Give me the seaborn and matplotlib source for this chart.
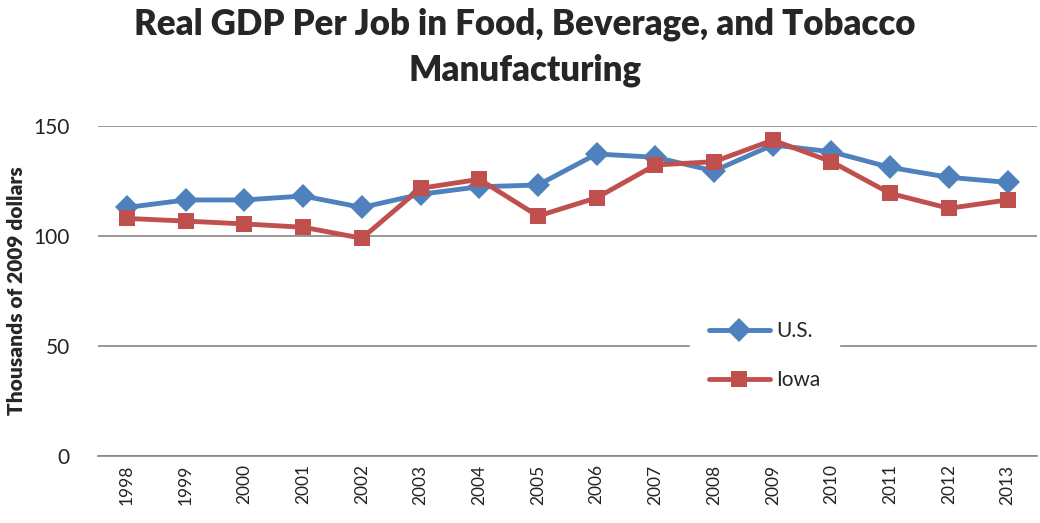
import matplotlib
matplotlib.use("Agg")
import matplotlib.pyplot as plt
import seaborn as sns
import pandas as pd

# values (thousands of 2009 dollars)
years = list(range(1998, 2014))
us_values = [113.0, 116.4, 116.4, 118.2, 113.0, 119.0, 122.4, 123.2,
             137.3, 135.8, 129.6, 141.4, 138.3, 131.2, 126.7, 124.4]
iowa_values = [108.0, 106.8, 105.5, 104.0, 99.0, 121.7, 125.8, 109.1,
               117.4, 132.3, 133.8, 143.6, 133.8, 119.4, 112.6, 116.4]
series_names = ["U.S.", "Iowa"]
y_ticks = [0, 50, 100, 150]

df = pd.DataFrame({
    "Year": [str(y) for y in years] * 2,
    "Value": us_values + iowa_values,
    "Series": ["U.S."] * len(years) + ["Iowa"] * len(years),
})

sns.set_style("white")
plt.rcParams["font.family"] = ["Lato", "DejaVu Sans"]

fig = plt.figure(figsize=(10.4, 5.23), dpi=100)
ax = fig.add_axes([0.094, 0.128, 0.903, 0.631])

sns.lineplot(data=df, x="Year", y="Value", hue="Series", style="Series",
             hue_order=series_names, style_order=series_names,
             palette={"U.S.": "#4F81BD", "Iowa": "#C0504D"},
             markers={"U.S.": "D", "Iowa": "s"}, dashes=False,
             linewidth=3.5, markersize=12, markeredgewidth=0, ax=ax)

ax.set_ylim(0, 150)
ax.set_xlim(-0.5, len(years) - 0.5)
ax.set_yticks(y_ticks)
ax.yaxis.grid(True, color="#868686", linewidth=1.2)
ax.set_axisbelow(True)
for s in ["top", "right", "left"]:
    ax.spines[s].set_visible(False)
ax.spines["bottom"].set_color("#868686")
ax.spines["bottom"].set_linewidth(1.2)

ax.tick_params(axis="y", labelsize=15, length=0, pad=20, colors="#222222")
ax.tick_params(axis="x", labelsize=12.5, rotation=90, length=0, pad=6,
               colors="#222222")
ax.set_xlabel("")
ax.set_ylabel("Thousands of 2009 dollars", fontsize=15, fontweight="heavy")
ax.yaxis.set_label_coords(-0.076, 0.5)

fig.suptitle("Real GDP Per Job in Food, Beverage, and Tobacco\nManufacturing",
             fontsize=25, fontweight="heavy", y=0.985, x=0.505,
             linespacing=1.45)

leg = ax.legend(loc="center left", bbox_to_anchor=(0.62, 0.305),
                frameon=True, fontsize=15, handlelength=2.9,
                labelspacing=1.4, borderpad=0.9, handletextpad=0.3)
leg.get_frame().set_edgecolor("white")
leg.get_frame().set_facecolor("white")
leg.get_frame().set_alpha(1)

fig.savefig("out.png", dpi=100)
